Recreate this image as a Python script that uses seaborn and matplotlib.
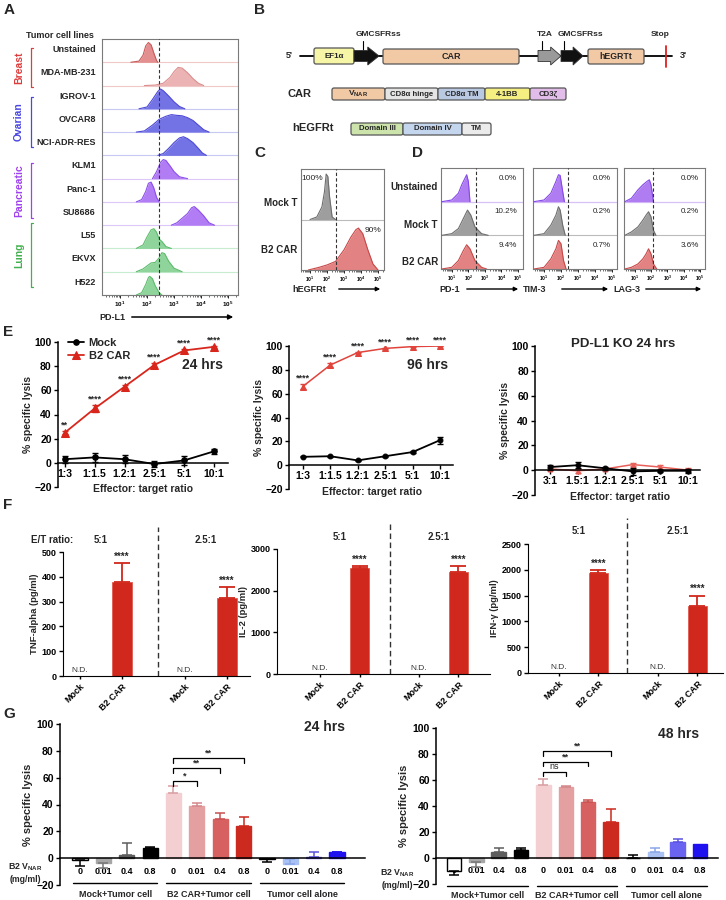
import numpy as np
import matplotlib
matplotlib.use("Agg")
import matplotlib.pyplot as plt
import seaborn as sns
from matplotlib.patches import FancyBboxPatch, Polygon

# ---------------- data ----------------
# A: PD-L1 flow histograms (x = log10 intensity, y = relative height of the row)
cell_lines = ["Unstained", "MDA-MB-231", "IGROV-1", "OVCAR8", "NCI-ADR-RES",
              "KLM1", "Panc-1", "SU8686", "L55", "EKVX", "H522"]
hist_x = {
    "Unstained":   [1.4, 1.7, 1.85, 1.95, 2.05, 2.15, 2.25, 2.35, 2.4],
    "MDA-MB-231":  [1.9, 2.3, 2.6, 2.85, 3.0, 3.15, 3.3, 3.5, 3.7, 3.9, 4.1],
    "IGROV-1":     [1.7, 2.0, 2.2, 2.4, 2.5, 2.6, 2.8, 3.0, 3.2, 3.4],
    "OVCAR8":      [1.6, 1.9, 2.2, 2.45, 2.7, 2.9, 3.1, 3.3, 3.5, 3.7, 3.9, 4.1, 4.3],
    "NCI-ADR-RES": [2.4, 2.6, 2.8, 3.0, 3.2, 3.35, 3.5, 3.7, 3.9, 4.05, 4.2],
    "KLM1":        [2.2, 2.35, 2.5, 2.6, 2.7, 2.85, 3.0, 3.2, 3.5],
    "Panc-1":      [1.6, 1.8, 1.95, 2.05, 2.15, 2.25, 2.35, 2.45],
    "SU8686":      [2.9, 3.1, 3.3, 3.5, 3.65, 3.75, 3.9, 4.1, 4.3, 4.5],
    "L55":         [1.6, 1.85, 2.0, 2.15, 2.25, 2.35, 2.45, 2.55, 2.7, 2.9],
    "EKVX":        [1.6, 1.85, 2.0, 2.15, 2.3, 2.45, 2.55, 2.65, 2.8, 3.0, 3.3],
    "H522":        [1.6, 1.8, 1.95, 2.05, 2.1, 2.2, 2.3, 2.45, 2.55],
}
hist_y = {
    "Unstained":   [0, 0.05, 0.3, 0.7, 0.85, 0.75, 0.4, 0.08, 0],
    "MDA-MB-231":  [0, 0.02, 0.1, 0.35, 0.6, 0.78, 0.75, 0.55, 0.3, 0.1, 0],
    "IGROV-1":     [0, 0.08, 0.4, 0.75, 0.85, 0.78, 0.55, 0.3, 0.1, 0],
    "OVCAR8":      [0, 0.05, 0.3, 0.55, 0.68, 0.75, 0.72, 0.7, 0.62, 0.5, 0.3, 0.1, 0],
    "NCI-ADR-RES": [0, 0.08, 0.3, 0.55, 0.75, 0.8, 0.72, 0.55, 0.3, 0.1, 0],
    "KLM1":        [0, 0.3, 0.7, 0.82, 0.78, 0.55, 0.3, 0.08, 0],
    "Panc-1":      [0, 0.1, 0.45, 0.8, 0.85, 0.6, 0.2, 0],
    "SU8686":      [0, 0.1, 0.3, 0.5, 0.75, 0.8, 0.65, 0.4, 0.1, 0],
    "L55":         [0, 0.15, 0.5, 0.8, 0.85, 0.7, 0.4, 0.3, 0.08, 0],
    "EKVX":        [0, 0.12, 0.25, 0.38, 0.4, 0.6, 0.82, 0.78, 0.45, 0.15, 0],
    "H522":        [0, 0.1, 0.45, 0.75, 0.8, 0.7, 0.4, 0.1, 0],
}
groups_a = ["Breast", "Ovarian", "Pancreatic", "Lung"]

# C: hEGFRt histograms
c_rows = ["Mock T", "B2 CAR"]
c_x = {"Mock T": [1.0, 1.4, 1.7, 1.85, 1.95, 2.05, 2.15, 2.3, 2.5],
       "B2 CAR": [0.9, 1.5, 2.0, 2.5, 3.0, 3.4, 3.7, 3.85, 4.1, 4.4, 4.7, 5.0]}
c_y = {"Mock T": [0, 0.05, 0.25, 0.55, 0.9, 0.85, 0.45, 0.05, 0],
       "B2 CAR": [0, 0.05, 0.1, 0.17, 0.4, 0.65, 0.8, 0.83, 0.72, 0.4, 0.12, 0]}
c_pct = ["100%", "90%"]

# D: exhaustion markers
d_markers = ["PD-1", "TIM-3", "LAG-3"]
d_rows = ["Unstained", "Mock T", "B2 CAR"]
d_x = {
    "PD-1": [[0.4, 1.0, 1.4, 1.6, 1.75, 1.9, 2.0, 2.1],
             [0.4, 1.0, 1.4, 1.7, 1.95, 2.15, 2.4, 2.8, 3.2],
             [0.4, 1.0, 1.4, 1.7, 1.9, 2.1, 2.4, 2.8, 3.1]],
    "TIM-3": [[0.4, 1.0, 1.4, 1.7, 1.85, 1.95, 2.1, 2.2],
              [0.4, 1.0, 1.4, 1.7, 1.85, 1.95, 2.1, 2.25],
              [0.4, 1.0, 1.4, 1.7, 1.85, 2.0, 2.15, 2.3]],
    "LAG-3": [[0.4, 0.8, 1.2, 1.5, 1.75, 1.9, 2.0, 2.15],
              [0.4, 0.8, 1.2, 1.5, 1.7, 1.85, 2.0, 2.15, 2.3],
              [0.4, 0.8, 1.2, 1.5, 1.7, 1.85, 2.0, 2.15, 2.35]],
}
d_y = {
    "PD-1": [[0, 0.05, 0.25, 0.5, 0.65, 0.8, 0.6, 0],
             [0, 0.05, 0.2, 0.5, 0.75, 0.6, 0.25, 0.05, 0],
             [0, 0.05, 0.25, 0.55, 0.72, 0.6, 0.25, 0.05, 0]],
    "TIM-3": [[0, 0.05, 0.25, 0.6, 0.8, 0.78, 0.3, 0],
              [0, 0.05, 0.3, 0.6, 0.85, 0.75, 0.3, 0],
              [0, 0.05, 0.3, 0.6, 0.85, 0.75, 0.25, 0]],
    "LAG-3": [[0, 0.1, 0.35, 0.5, 0.6, 0.65, 0.5, 0],
              [0, 0.1, 0.25, 0.45, 0.6, 0.7, 0.55, 0.15, 0],
              [0, 0.05, 0.15, 0.3, 0.45, 0.6, 0.45, 0.15, 0]],
}
d_pct = {"PD-1": ["0.0%", "10.2%", "9.4%"],
         "TIM-3": ["0.0%", "0.2%", "0.7%"],
         "LAG-3": ["0.0%", "0.2%", "3.6%"]}
d_gate = {"PD-1": 2.45, "TIM-3": 2.4, "LAG-3": 2.15}

# E: cytotoxicity vs E:T ratio
et_ratios = ["1:3", "1:1.5", "1.2:1", "2.5:1", "5:1", "10:1"]
et_ratios_ko = ["3:1", "1.5:1", "1.2:1", "2.5:1", "5:1", "10:1"]
e24_mock = [3, 4.5, 3, -1, 2, 9.5]
e24_mock_err = [3, 4, 3.5, 2.5, 3.5, 2]
e24_car = [25, 45, 63, 81, 93, 96]
e24_car_err = [1.5, 3, 1.5, 1.5, 1, 1]
e24_stars = ["**", "****", "****", "****", "****", "****"]
e96_mock = [7, 7.5, 4, 7.5, 11, 21]
e96_mock_err = [0.5, 0.5, 0.5, 0.5, 1, 3]
e96_car = [66, 84, 94.5, 98, 99.5, 100]
e96_car_err = [2.5, 2, 0.5, 0.5, 0.5, 0.3]
e96_stars = ["****"] * 6
eko_mock = [2.5, 4, 1.5, -1, -0.5, -0.5]
eko_mock_err = [2, 2.5, 1, 2.5, 1, 1.5]
eko_car = [1, -0.5, 1, 4.5, 2.5, 0]
eko_car_err = [1, 1.5, 0.5, 1, 2, 1.5]

# F: cytokines
f_ticks = ["Mock", "B2 CAR", "Mock", "B2 CAR"]
f_pos = [0, 1, 2.5, 3.5]
tnf = [0, 380, 0, 315]
tnf_err = [0, 75, 0, 42]
il2 = [0, 2550, 0, 2460]
il2_err = [0, 40, 0, 140]
ifng = [0, 1940, 0, 1290]
ifng_err = [0, 50, 0, 210]

# G: blocking with soluble B2 VNAR
g_groups = ["Mock+Tumor cell", "B2 CAR+Tumor cell", "Tumor cell alone"]
g_ticks = ["0", "0.01", "0.4", "0.8"] * 3
g24 = [-1, -3.5, 2, 7.5, 48.5, 39, 29, 24, -0.5, -4.5, 1, 4.5]
g24_err = [-5, -3.5, 9, 1, 5, 2, 4.5, 7, -2.5, 4, 3.5, 0.3]
g48 = [-10, -3, 5, 6.5, 56.5, 54.5, 43, 28, 0, 5, 12.5, 10.5]
g48_err = [-3, -4, 3, 1, 4, 1, 1.5, 10, 2.5, 3, 2, 0]
g24_sig = ["*", "**", "**"]
g48_sig = ["ns", "**", "**"]

# ---------------- style ----------------
sns.set_style("ticks")
plt.rcParams["font.family"] = ["Liberation Sans", "DejaVu Sans"]
plt.rcParams["font.weight"] = "bold"
plt.rcParams["axes.labelweight"] = "bold"
plt.rcParams["mathtext.fontset"] = "custom"
plt.rcParams["mathtext.rm"] = "Liberation Sans:bold"
plt.rcParams["mathtext.it"] = "Liberation Sans:bold"
plt.rcParams["mathtext.bf"] = "Liberation Sans:bold"
plt.rcParams["axes.edgecolor"] = "black"
plt.rcParams["xtick.color"] = "black"
plt.rcParams["ytick.color"] = "black"

W, H = 726, 900
fig = plt.figure(figsize=(W / 100, H / 100), dpi=100)


def px_axes(x0, y0, x1, y1):
    return fig.add_axes([x0 / W, 1 - y1 / H, (x1 - x0) / W, (y1 - y0) / H])


ov = fig.add_axes([0, 0, 1, 1], zorder=10)
ov.set_xlim(0, W)
ov.set_ylim(H, 0)
ov.axis("off")

# panel letters
for lab, x, y in [("A", 4, 3), ("B", 254, 3), ("C", 254, 146), ("D", 412, 146),
                  ("E", 3, 325), ("F", 3, 498), ("G", 3, 707)]:
    ov.text(x, y, lab, fontsize=11, va="top", ha="left")


def draw_hist(ax, xs, ys, base, fill, edge):
    xs = np.asarray(xs, float)
    top = base + np.asarray(ys, float)
    ax.fill_between(xs, base, top, color=fill, lw=0, zorder=2)
    sns.lineplot(x=xs, y=top, ax=ax, color=edge, lw=0.8, estimator=None, sort=False, zorder=3)


def flow_axes(ax, xlim, nrows, gate, fs):
    ax.set_xlim(*xlim)
    ax.set_ylim(0, nrows)
    ax.set_yticks([])
    ax.set_xticks([1, 2, 3, 4, 5])
    ax.set_xticklabels(["$10^{%d}$" % d for d in range(1, 6)], fontsize=fs)
    minors = [d + np.log10(k) for d in range(0, 6) for k in range(2, 10)
              if xlim[0] < d + np.log10(k) < xlim[1]]
    ax.set_xticks(minors, minor=True)
    ax.tick_params(axis="x", which="major", length=2.5, width=0.6, pad=1)
    ax.tick_params(axis="x", which="minor", length=1.3, width=0.4)
    ax.axvline(gate, ls=(0, (3, 2)), color="#333333", lw=0.8, zorder=4)
    for s in ax.spines.values():
        s.set_color("#7a7a7a")
        s.set_linewidth(0.8)


# ---------------- A ----------------
row_fill = ["#e48f8f", "#ebb3b3"] + ["#7473e6"] * 3 + ["#b27cf4"] * 3 + ["#8fd59b"] * 3
row_edge = ["#c85a5a", "#dc8e8e"] + ["#4b48d6"] * 3 + ["#8c4fec"] * 3 + ["#5cbc6c"] * 3
row_sep = ["#f0c8c8", "#f0c8c8"] + ["#c8c8f4"] * 3 + ["#dcc8f8"] * 3 + ["#c8ecd0"] * 3
axA = px_axes(102, 39, 238, 295)
nA = len(cell_lines)
for i, name in enumerate(cell_lines):
    base = nA - 1 - i
    axA.axhline(base, color=row_sep[i], lw=0.8, zorder=1)
    draw_hist(axA, hist_x[name], hist_y[name], base, row_fill[i], row_edge[i])
    ov.text(96, 39 + (i + 0.45) * 256 / nA, name, ha="right", va="center", fontsize=6.5)
flow_axes(axA, (0.33, 5.37), nA, 2.44, 4.5)
ov.text(60, 35, "Tumor cell lines", ha="center", va="center", fontsize=6.5)
grp_color = {"Breast": "#e03c3c", "Ovarian": "#4a48e0", "Pancreatic": "#a040f0", "Lung": "#42b04e"}
grp_span = {"Breast": (48, 87), "Ovarian": (97, 147), "Pancreatic": (163, 218), "Lung": (223, 287)}
for g in groups_a:
    y0, y1 = grp_span[g]
    c = grp_color[g]
    ov.plot([33, 31, 31, 33], [y0, y0, y1, y1], color=c, lw=0.9)
    ov.text(19, (y0 + y1) / 2, g, rotation=90, color=c, ha="center", va="center", fontsize=7.5)
ov.text(112, 317, "PD-L1", ha="center", va="center", fontsize=6.5)
ov.annotate("", xy=(236, 317), xytext=(129, 317),
            arrowprops=dict(arrowstyle="-|>", color="black", lw=1.1, mutation_scale=7))

# ---------------- B ----------------
def box(x0, x1, y0, y1, fc, label, fs=5.8):
    ov.add_patch(FancyBboxPatch((x0, y0), x1 - x0, y1 - y0,
                                boxstyle="round,pad=0,rounding_size=2",
                                fc=fc, ec="#555555", lw=0.9, zorder=3))
    ov.text((x0 + x1) / 2, (y0 + y1) / 2, label, ha="center", va="center", fontsize=fs, zorder=4)


def block_arrow(x0, x1, yc, hh, color):
    sh = hh * 0.62
    head = (x1 - x0) * 0.45
    pts = [(x0, yc - sh), (x1 - head, yc - sh), (x1 - head, yc - hh), (x1, yc),
           (x1 - head, yc + hh), (x1 - head, yc + sh), (x0, yc + sh)]
    ov.add_patch(Polygon(pts, closed=True, fc=color, ec="#333333", lw=0.6, zorder=3))


ov.plot([300, 672], [56, 56], color="black", lw=1.3, zorder=2)
ov.text(289, 56, "5'", ha="center", va="center", fontsize=6.5)
ov.text(683, 56, "3'", ha="center", va="center", fontsize=6.5)
box(314, 354, 48, 64, "#f6f6a6", "EF1α")
block_arrow(354, 379, 56, 9, "#111111")
box(383, 519, 49, 64, "#f2c9a5", "CAR", 6.5)
block_arrow(538, 561, 56, 9, "#9a9a9a")
block_arrow(561, 583, 56, 9, "#111111")
box(588, 644, 49, 64, "#f2c9a5", "hEGRTt", 6.3)
ov.plot([666, 666], [46, 67], color="#e02020", lw=1.3, zorder=4)
for x, lab, lx in [(363, "GMCSFRss", 378), (542, "T2A", 545), (564, "GMCSFRss", 580)]:
    ov.plot([x, x], [41, 50], color="black", lw=0.8)
    ov.text(lx, 35, lab, ha="center", va="center", fontsize=6)
ov.text(660, 35, "Stop", ha="center", va="center", fontsize=6)

ov.text(300, 94, "CAR", ha="center", va="center", fontsize=8)
box(332, 385, 88, 100, "#f2c9a5", "V$_{\\mathrm{NAR}}$", 6)
box(385, 438, 88, 100, "#e4e4e4", "CD8α hinge", 5.6)
box(438, 485, 88, 100, "#b9c9e2", "CD8α TM", 5.6)
box(485, 530, 88, 100, "#f5ee80", "4-1BB", 5.6)
box(530, 566, 88, 100, "#e2bde9", "CD3ζ", 5.6)
ov.text(313, 128, "hEGFRt", ha="center", va="center", fontsize=8)
box(351, 403, 123, 135, "#cce3ab", "Domain III", 5.6)
box(403, 462, 123, 135, "#c4d6ee", "Domain IV", 5.6)
box(462, 491, 123, 135, "#ebebeb", "TM", 5.6)

# ---------------- C ----------------
axC = px_axes(301, 169, 384, 270)
c_fill = {"Mock T": "#9e9e9e", "B2 CAR": "#e38282"}
c_edge = {"Mock T": "#6e6e6e", "B2 CAR": "#c84848"}
axC.axhline(1, color="#bbbbbb", lw=0.8)
for r, name in enumerate(c_rows):
    draw_hist(axC, c_x[name], c_y[name], 1 - r, c_fill[name], c_edge[name])
    ov.text(297, 203 + r * 47, name, ha="right", va="center", fontsize=7)
flow_axes(axC, (0.47, 5.35), 2, 2.53, 3.6)
axC.tick_params(axis="x", labelsize=3.6)
ov.text(312, 179, c_pct[0], ha="center", va="center", fontsize=6, fontweight="normal")
ov.text(373, 231, c_pct[1], ha="center", va="center", fontsize=6, fontweight="normal")
ov.text(309, 289, "hEGFRt", ha="center", va="center", fontsize=6.5)
ov.annotate("", xy=(383, 289), xytext=(336, 289),
            arrowprops=dict(arrowstyle="-|>", color="black", lw=1.0, mutation_scale=6))

# ---------------- D ----------------
d_rect = {"PD-1": (441, 523), "TIM-3": (533, 617), "LAG-3": (624, 705)}
d_fill = ["#b07cf2", "#9e9e9e", "#e38282"]
d_edge = ["#8548ea", "#6e6e6e", "#c84848"]
for m in d_markers:
    x0, x1 = d_rect[m]
    ax = px_axes(x0, 168, x1, 269)
    ax.axhline(2, color="#d7c2f6", lw=0.9)
    ax.axhline(1, color="#bbbbbb", lw=0.8)
    for r in range(3):
        draw_hist(ax, d_x[m][r], d_y[m][r], 2 - r, d_fill[r], d_edge[r])
        ax.text(0.93, 1 - r / 3 - 0.1, d_pct[m][r], transform=ax.transAxes,
                ha="right", va="center", fontsize=5.8, fontweight="normal")
    flow_axes(ax, (0.35, 5.3), 3, d_gate[m], 3.6)
for r, name in enumerate(d_rows):
    ov.text(438, 187 + r * 37.5, name, ha="right", va="center", fontsize=7)
for lab, lx, a0, a1 in [("PD-1", 450, 464, 521), ("TIM-3", 535, 559, 611), ("LAG-3", 627, 643, 704)]:
    ov.text(lx, 289, lab, ha="center", va="center", fontsize=6.5)
    ov.annotate("", xy=(a1, 289), xytext=(a0, 289),
                arrowprops=dict(arrowstyle="-|>", color="black", lw=1.0, mutation_scale=6))

# ---------------- E ----------------
def lysis_style(ax, cats, xlim):
    ax.set_ylim(-20, 100)
    ax.set_xlim(*xlim)
    ax.set_yticks(np.arange(-20, 101, 20))
    ax.set_xticks(np.arange(len(cats)))
    ax.set_xticklabels(cats)
    sns.despine(ax=ax)
    ax.spines["bottom"].set_position(("data", 0))
    ax.spines["left"].set_linewidth(1.1)
    ax.spines["bottom"].set_linewidth(1.1)
    ax.tick_params(axis="both", labelsize=7.5, width=1, length=3, pad=1.5)
    ax.set_ylabel("% specific lysis", fontsize=7.5, labelpad=1)


x6 = np.arange(6)
red = "#d9261c"

axE1 = px_axes(58, 342, 228, 487)
sns.lineplot(x=x6, y=e24_mock, ax=axE1, color="black", marker="o", markersize=4,
             lw=1.3, label="Mock", markeredgecolor="black")
axE1.errorbar(x6, e24_mock, yerr=e24_mock_err, fmt="none", ecolor="black", elinewidth=1,
              capsize=2.5, capthick=1)
sns.lineplot(x=x6, y=e24_car, ax=axE1, color=red, marker="^", markersize=5.5, lw=1.3,
             label="B2 CAR", markeredgecolor=red)
axE1.errorbar(x6, e24_car, yerr=e24_car_err, fmt="none", ecolor=red, elinewidth=1,
              capsize=2.5, capthick=1)
for i, s in enumerate(e24_stars):
    axE1.text(i, e24_car[i] + e24_car_err[i] + 1, s, ha="center", va="bottom", fontsize=6.5)
lysis_style(axE1, et_ratios, (-0.23, 5.47))
axE1.legend(loc="upper left", bbox_to_anchor=(0.03, 1.06), frameon=False, fontsize=8,
            handlelength=1.5, handletextpad=0.4, labelspacing=0.3, borderaxespad=0)
ov.text(203, 365, "24 hrs", ha="center", va="center", fontsize=10)
ov.text(143, 489, "Effector: target ratio", ha="center", va="center", fontsize=7.5)

axE2 = px_axes(289, 346, 453, 489)
sns.lineplot(x=x6, y=e96_mock, ax=axE2, color="black", marker="o", markersize=3.5, lw=1.3,
             markeredgecolor="black")
axE2.errorbar(x6, e96_mock, yerr=e96_mock_err, fmt="none", ecolor="black", elinewidth=1,
              capsize=2.5, capthick=1)
sns.lineplot(x=x6, y=e96_car, ax=axE2, color="#e0443c", marker="^", markersize=4, lw=1.1,
             markeredgecolor="#e0443c")
axE2.errorbar(x6, e96_car, yerr=e96_car_err, fmt="none", ecolor="#e0443c", elinewidth=1,
              capsize=2.5, capthick=1)
for i, s in enumerate(e96_stars):
    axE2.text(i, e96_car[i] + e96_car_err[i] + 1, s, ha="center", va="bottom", fontsize=6.5)
lysis_style(axE2, et_ratios, (-0.5, 5.47))
ov.text(428, 365, "96 hrs", ha="center", va="center", fontsize=10)
ov.text(372, 492, "Effector: target ratio", ha="center", va="center", fontsize=7.5)

axE3 = px_axes(535, 346, 700, 495)
sns.lineplot(x=x6, y=eko_car, ax=axE3, color="#e8605a", marker="^", markersize=3.5, lw=1.1,
             markeredgecolor="#e8605a")
axE3.errorbar(x6, eko_car, yerr=eko_car_err, fmt="none", ecolor="#e8605a", elinewidth=1,
              capsize=2.5, capthick=1)
sns.lineplot(x=x6, y=eko_mock, ax=axE3, color="black", marker="o", markersize=3.5, lw=1.3,
             markeredgecolor="black")
axE3.errorbar(x6, eko_mock, yerr=eko_mock_err, fmt="none", ecolor="black", elinewidth=1,
              capsize=2.5, capthick=1)
lysis_style(axE3, et_ratios_ko, (-0.54, 5.43))
ov.text(623, 344, "PD-L1 KO 24 hrs", ha="center", va="center", fontsize=9.5)
ov.text(620, 497, "Effector: target ratio", ha="center", va="center", fontsize=7.5)

# ---------------- F ----------------
def cyto(ax, vals, errs, ymax, ystep, ylabel, xlim, divider):
    sns.barplot(x=f_pos, y=vals, native_scale=True, width=0.48, color="#d0281c",
                saturation=1, edgecolor="#e25a4e", linewidth=0.6, errorbar=None, ax=ax)
    for i, (v, e) in enumerate(zip(vals, errs)):
        if v == 0:
            ax.text(f_pos[i], ymax * 0.015, "N.D.", ha="center", va="bottom", fontsize=6,
                    fontweight="normal", color="#333333")
        else:
            ax.errorbar([f_pos[i]], [v], yerr=[[0], [e]], fmt="none", ecolor="#d0281c",
                        elinewidth=1.3, capsize=5.5, capthick=1.3)
            ax.text(f_pos[i], v + e + ymax * 0.01, "****", ha="center", va="bottom", fontsize=7)
    ax.set_xlim(*xlim)
    ax.set_ylim(0, ymax)
    ax.set_yticks(np.arange(0, ymax + 1, ystep))
    ax.set_xticks(f_pos)
    ax.set_xticklabels(f_ticks, rotation=45, ha="right", rotation_mode="anchor")
    sns.despine(ax=ax)
    ax.tick_params(axis="y", labelsize=6.5, length=3, width=1, pad=1.5)
    ax.tick_params(axis="x", labelsize=6.5, length=2.5, width=1, pad=2)
    ax.set_ylabel(ylabel, fontsize=6.8, labelpad=2)
    ax.set_xlabel("")
    ax.plot([divider, divider], [0, 1.2], transform=ax.get_xaxis_transform(),
            ls=(0, (4, 2.5)), color="#333333", lw=1, clip_on=False)
    ax.text(0.5, 1.1, "5:1", transform=ax.get_xaxis_transform(), ha="center", va="center", fontsize=7)
    ax.text(3.0, 1.1, "2.5:1", transform=ax.get_xaxis_transform(), ha="center", va="center", fontsize=7)


axF1 = px_axes(63, 552, 250, 676)
cyto(axF1, tnf, tnf_err, 500, 100, "TNF-alpha (pg/ml)", (-0.4, 4.05), 1.85)
ov.text(52, 540, "E/T ratio:", ha="center", va="center", fontsize=7)
axF2 = px_axes(277, 549, 490, 674)
cyto(axF2, il2, il2_err, 3000, 1000, "IL-2 (pg/ml)", (-1.09, 4.3), 1.78)
axF3 = px_axes(528, 544, 723, 673)
cyto(axF3, ifng, ifng_err, 2500, 500, "IFN-γ (pg/ml)", (-0.78, 4.15), 1.72)

# ---------------- G ----------------
g_pos = np.arange(12)
g_colors = ["#ffffff", "#a6a6a6", "#5e5e5e", "#000000", "#f3cfd1", "#e49fa0", "#d76061",
            "#cc2a1f", "#ffffff", "#a9c1f3", "#6a62f0", "#1f10ef"]
g_edges = ["#000000", "#a6a6a6", "#5e5e5e", "#000000", "#f3cfd1", "#e49fa0", "#d76061",
           "#cc2a1f", "#000000", "#a9c1f3", "#6a62f0", "#1f10ef"]
g_errc = ["#000000", "#777777", "#5e5e5e", "#000000", "#d99ea2", "#d4878a", "#c85050",
          "#cc2a1f", "#000000", "#8aa6e8", "#5a52e0", "#1f10ef"]


def lysis_bars(ax, vals, errs, xlim, sig, sig_y, line_y, text_y, title, title_xy):
    sns.barplot(x=g_pos, y=vals, hue=g_pos, palette=g_colors, width=0.65, legend=False,
                saturation=1, errorbar=None, linewidth=1, ax=ax)
    for p in ax.patches:
        idx = int(round(p.get_x() + p.get_width() / 2))
        p.set_edgecolor(g_edges[idx])
    for i, (v, e) in enumerate(zip(vals, errs)):
        if e == 0:
            continue
        yerr = [[0], [e]] if e > 0 else [[-e], [0]]
        ax.errorbar([i], [v], yerr=yerr, fmt="none", ecolor=g_errc[i], elinewidth=1.1,
                    capsize=3.5, capthick=1.1)
    for k, (s, yb) in enumerate(zip(sig, sig_y)):
        x1 = 5 + k
        ax.plot([4, 4, x1, x1], [yb - 3.5, yb, yb, yb - 3.5], color="black", lw=0.9)
        ax.text((4 + x1) / 2, yb + 0.5, s, ha="center", va="bottom", fontsize=6.5,
                fontweight="normal" if s == "ns" else "bold")
    ax.set_ylim(-20, 100)
    ax.set_xlim(*xlim)
    ax.set_yticks(np.arange(-20, 101, 20))
    ax.set_xticks(g_pos)
    ax.set_xticklabels(g_ticks)
    sns.despine(ax=ax)
    ax.spines["bottom"].set_position(("data", 0))
    ax.spines["left"].set_linewidth(1.1)
    ax.spines["bottom"].set_linewidth(1.1)
    ax.tick_params(axis="y", labelsize=7.5, length=3, width=1, pad=1.5)
    ax.tick_params(axis="x", labelsize=6.5, length=0, pad=6)
    ax.set_ylabel("% specific lysis", fontsize=8, labelpad=2)
    ax.set_xlabel("")
    for g, name in enumerate(g_groups):
        ax.plot([4 * g - 0.3, 4 * g + 3.3], [line_y, line_y], color="black", lw=1, clip_on=False)
        ax.text(4 * g + 1.5, text_y, name, ha="center", va="center", fontsize=6.5, clip_on=False)
    ov.text(title_xy[0], title_xy[1], title, ha="center", va="center", fontsize=10)


axG1 = px_axes(60, 724, 365, 885)
lysis_bars(axG1, g24, g24_err, (-0.86, 12.2), g24_sig, [57.5, 67, 74.5], -18.7, -26.9,
           "24 hrs", (325, 727))
ov.text(25, 867, "B2 V$_{\\mathrm{NAR}}$", ha="center", va="center", fontsize=6.3)
ov.text(25, 880, "(mg/ml)", ha="center", va="center", fontsize=6.3)

axG2 = px_axes(436, 728, 718, 884)
lysis_bars(axG2, g48, g48_err, (-0.8, 11.8), g48_sig, [66.5, 74, 82], -21.5, -28.5,
           "48 hrs", (679, 734))
ov.text(397, 873, "B2 V$_{\\mathrm{NAR}}$", ha="center", va="center", fontsize=6.3)
ov.text(397, 886, "(mg/ml)", ha="center", va="center", fontsize=6.3)

fig.savefig("out.png", dpi=100)
